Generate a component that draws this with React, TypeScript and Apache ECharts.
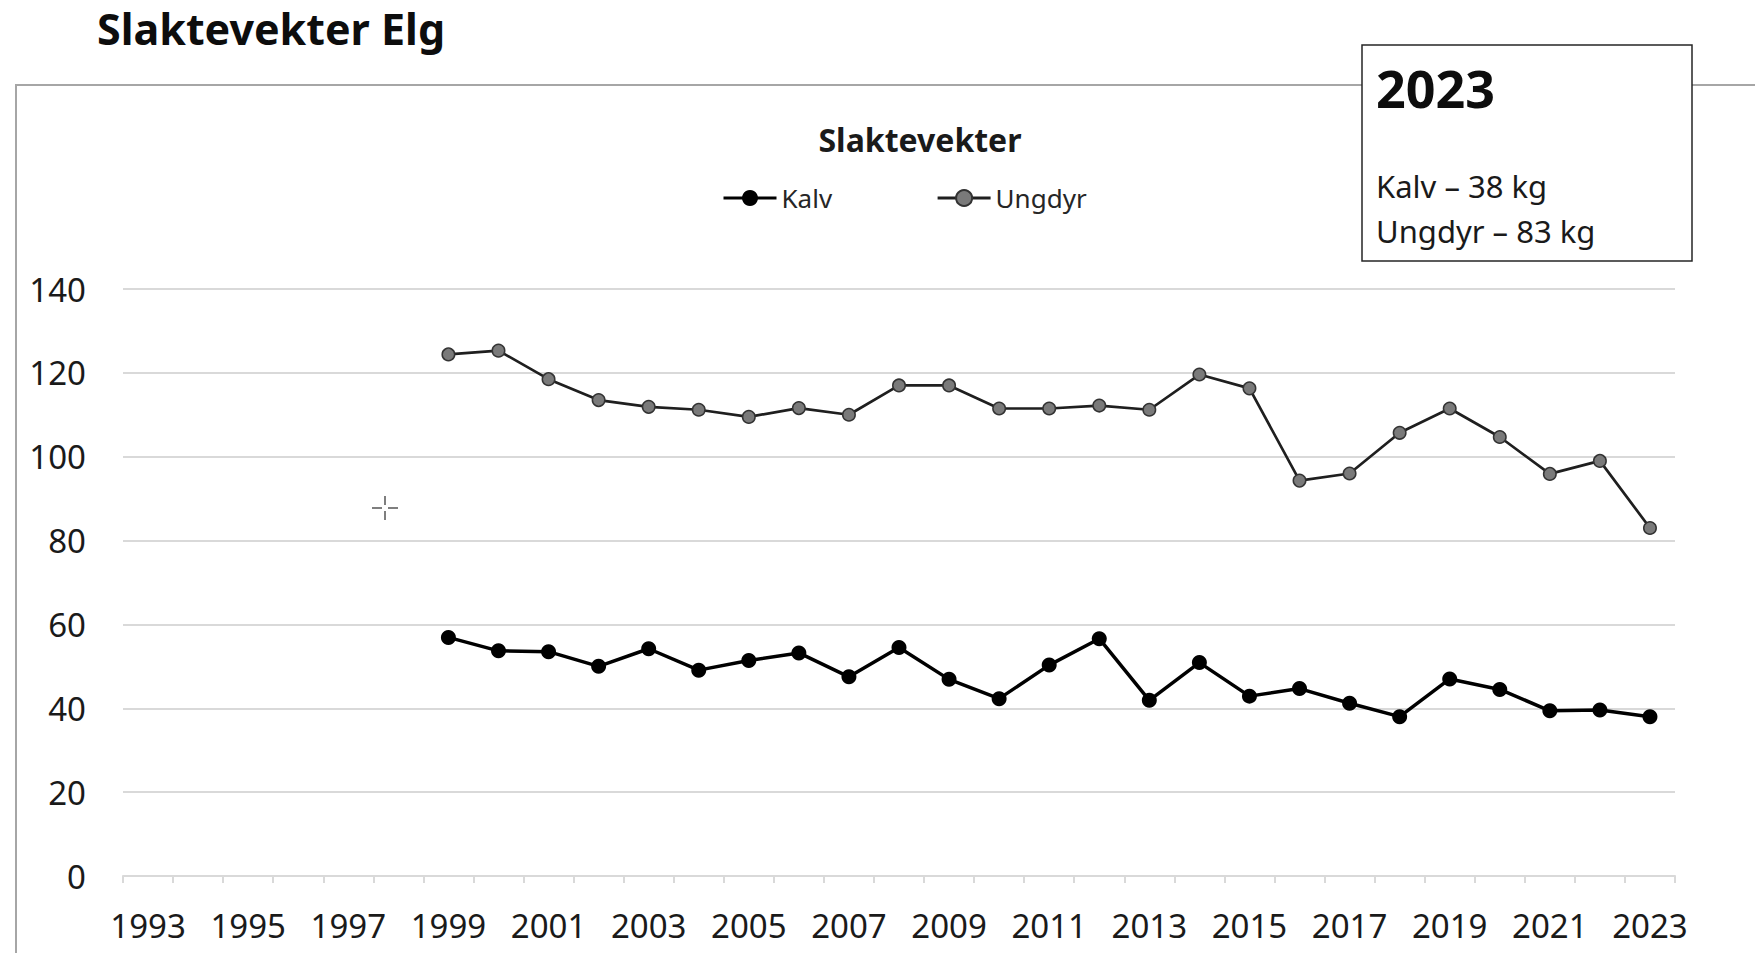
import React, { useEffect, useRef } from "react";
import * as echarts from "echarts";

const years = [
  "1993", "1994", "1995", "1996", "1997", "1998", "1999", "2000", "2001", "2002",
  "2003", "2004", "2005", "2006", "2007", "2008", "2009", "2010", "2011", "2012",
  "2013", "2014", "2015", "2016", "2017", "2018", "2019", "2020", "2021", "2022", "2023",
];

const kalv = [
  null, null, null, null, null, null,
  56.9, 53.7, 53.5, 50.0, 54.2, 49.1, 51.4, 53.2, 47.5, 54.5, 46.9, 42.3, 50.3,
  56.6, 41.9, 50.9, 42.9, 44.7, 41.2, 38.0, 47.0, 44.5, 39.4, 39.6, 38,
];

const ungdyr = [
  null, null, null, null, null, null,
  124.4, 125.3, 118.5, 113.5, 111.9, 111.2, 109.5, 111.6, 110.0, 117.0, 117.0, 111.5, 111.5,
  112.2, 111.2, 119.6, 116.3, 94.3, 96.0, 105.7, 111.5, 104.7, 95.9, 99.0, 83,
];

const yTicks = { min: 0, max: 140, interval: 20 };

const mainTitle = "Slaktevekter Elg";
const chartTitle = "Slaktevekter";
const boxYear = "2023";
const boxLines = ["Kalv – 38 kg", "Ungdyr – 83 kg"];

const FONT = "'Noto Sans', 'Open Sans', sans-serif";

export default function App() {
  const ref = useRef<HTMLDivElement>(null);

  useEffect(() => {
    document.body.style.margin = "0";
    if (!ref.current) return;
    const chart = echarts.init(ref.current, undefined, { renderer: "svg" });
    chart.setOption({
      animation: false,
      backgroundColor: "#ffffff",
      textStyle: { fontFamily: FONT },
      grid: { left: 123, right: 80, top: 289, bottom: 77, containLabel: false },
      legend: {
        left: 717,
        top: 180,
        itemWidth: 53,
        itemHeight: 20,
        itemGap: 104,
        lineStyle: { width: 3 },
        textStyle: { fontSize: 26, color: "#262626", fontFamily: FONT },
        data: ["Kalv", "Ungdyr"],
      },
      xAxis: {
        type: "category",
        data: years,
        boundaryGap: true,
        axisLine: { lineStyle: { color: "#d9d9d9", width: 2 } },
        axisTick: { show: true, interval: 0, length: 7, lineStyle: { color: "#d9d9d9", width: 2 } },
        axisLabel: { interval: 1, fontSize: 33, color: "#1a1a1a", margin: 33, fontFamily: FONT },
        splitLine: { show: false },
      },
      yAxis: {
        type: "value",
        min: yTicks.min,
        max: yTicks.max,
        interval: yTicks.interval,
        axisLine: { show: false },
        axisTick: { show: false },
        axisLabel: { fontSize: 33, color: "#1a1a1a", margin: 37, fontFamily: FONT },
        splitLine: { lineStyle: { color: "#d9d9d9", width: 2 } },
      },
      series: [
        {
          name: "Kalv",
          type: "line",
          data: kalv,
          symbol: "circle",
          symbolSize: 15,
          connectNulls: false,
          itemStyle: { color: "#000000" },
          lineStyle: { color: "#000000", width: 3.5 },
          z: 3,
        },
        {
          name: "Ungdyr",
          type: "line",
          data: ungdyr,
          symbol: "circle",
          symbolSize: 12.5,
          connectNulls: false,
          itemStyle: { color: "#7a7a7a", borderColor: "#333333", borderWidth: 1.5 },
          lineStyle: { color: "#1f1f1f", width: 2.7 },
          z: 2,
        },
      ],
      graphic: [
        {
          type: "rect",
          z: -10,
          shape: { x: 16, y: 85, width: 1800, height: 1000 },
          style: { fill: "none", stroke: "#a6a6a6", lineWidth: 2 },
        },
        {
          type: "text",
          x: 97,
          y: 28,
          style: {
            text: mainTitle,
            font: `bold 43px ${FONT}`,
            fill: "#0d0d0d",
            verticalAlign: "middle",
            align: "left",
          },
        },
        {
          type: "text",
          x: 920,
          y: 139,
          style: {
            text: chartTitle,
            font: `bold 32px ${FONT}`,
            fill: "#1a1a1a",
            verticalAlign: "middle",
            align: "center",
          },
        },
        {
          type: "rect",
          z: 10,
          shape: { x: 1362, y: 45, width: 330, height: 216 },
          style: { fill: "#ffffff", stroke: "#262626", lineWidth: 1.5 },
        },
        {
          type: "text",
          z: 11,
          x: 1376,
          y: 87,
          style: {
            text: boxYear,
            font: `bold 52px ${FONT}`,
            fill: "#0d0d0d",
            verticalAlign: "middle",
            align: "left",
          },
        },
        {
          type: "text",
          z: 11,
          x: 1376,
          y: 186,
          style: {
            text: boxLines[0],
            font: `31px ${FONT}`,
            fill: "#1a1a1a",
            verticalAlign: "middle",
            align: "left",
          },
        },
        {
          type: "text",
          z: 11,
          x: 1376,
          y: 231,
          style: {
            text: boxLines[1],
            font: `31px ${FONT}`,
            fill: "#1a1a1a",
            verticalAlign: "middle",
            align: "left",
          },
        },
        {
          type: "line",
          shape: { x1: 372, y1: 508, x2: 382, y2: 508 },
          style: { stroke: "#555555", lineWidth: 1.5 },
        },
        {
          type: "line",
          shape: { x1: 388, y1: 508, x2: 398, y2: 508 },
          style: { stroke: "#555555", lineWidth: 1.5 },
        },
        {
          type: "line",
          shape: { x1: 385, y1: 496, x2: 385, y2: 505 },
          style: { stroke: "#555555", lineWidth: 1.5 },
        },
        {
          type: "line",
          shape: { x1: 385, y1: 511, x2: 385, y2: 520 },
          style: { stroke: "#555555", lineWidth: 1.5 },
        },
      ],
    });
    return () => chart.dispose();
  }, []);

  return <div ref={ref} style={{ width: 1755, height: 953 }} />;
}
